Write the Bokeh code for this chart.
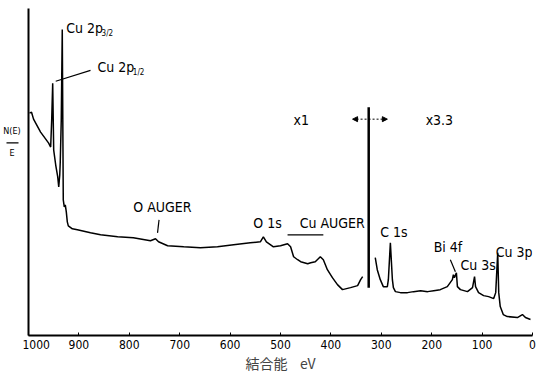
from bokeh.plotting import figure
from bokeh.models import Range1d, Label, Arrow, NormalHead, FixedTicker
from bokeh.layouts import row
from bokeh.core.properties import value
from bokeh.embed import file_html
from bokeh.resources import INLINE

# ---- spectrum data (binding energy eV, intensity arbitrary units) ----
# scale x1 segment (1000 -> ~337 eV)
be_x1 = [998, 994, 990, 976, 960, 956, 954, 952, 950, 946, 942, 940, 938, 937, 935, 933,
         931, 929, 927, 925, 923, 921, 913, 903, 877, 857, 823, 792, 758, 748, 742, 724,
         692, 659, 625, 593, 560, 540, 534, 528, 514, 500, 486, 480, 474, 466, 460, 446,
         440, 431, 421, 415, 407, 397, 387, 377, 361, 347, 341, 337]
int_x1 = [223, 224, 217, 204, 193, 189, 216, 253, 186, 171, 159, 149, 161, 174, 216, 307,
          136, 129, 131, 124, 114, 110, 107, 106, 103, 101, 99, 98, 95, 97, 94, 90,
          89, 88, 89, 91, 93, 94, 99, 94, 89, 90, 92, 89, 79, 76, 74, 72,
          73, 74, 79, 76, 66, 58, 51, 46, 48, 50, 56, 59]
# scale x3.3 segment (~312 -> 0 eV)
be_x33 = [312, 308, 302, 296, 288, 286, 282, 278, 276, 272, 262, 248, 236, 222, 208, 196,
          183, 169, 159, 157, 155, 151, 149, 143, 129, 119, 115, 113, 107, 97, 87, 77,
          73, 69, 67, 64, 58, 50, 30, 20, 14, 4]
int_x33 = [78, 66, 56, 49, 49, 56, 93, 56, 48, 44, 43, 43, 44, 45, 44, 45,
           46, 49, 56, 61, 58, 63, 49, 46, 44, 48, 59, 49, 43, 40, 39, 37,
           43, 83, 43, 29, 21, 19, 18, 21, 18, 16]

tick_values = [0, 100, 200, 300, 400, 500, 600, 700, 800, 900, 1000]
tick_labels = ["0", "100", "200", "300", "400", "500", "600", "700", "800", "900", "1000"]
x_title = "結合能\u00a0\u00a0\u00a0\u00a0eV"
y_title_top, y_title_bottom = "N(E)", "E"

# ---- annotation positions (data units) ----
split_be, split_lo, split_hi = 325, 48, 229

FONT = "DejaVu Sans Condensed, Liberation Sans Narrow, sans-serif"

# ---- narrow strip on the left holding the N(E)/E axis title ----
side = figure(width=22, height=375, x_range=Range1d(0, 22), y_range=Range1d(0, 375),
              output_backend="svg", toolbar_location=None,
              min_border_left=0, min_border_right=0, min_border_top=0, min_border_bottom=0)
side.axis.visible = False
side.grid.visible = False
side.outline_line_color = None
side.text(x=[11.5, 11.5], y=[234, 209], text=[y_title_top, y_title_bottom],
          text_font=value(FONT), text_font_size="9px", text_align="center",
          text_baseline="middle", text_color="black")
side.segment(x0=[6], y0=[221], x1=[18], y1=[221], line_color="black", line_width=1.2)

# ---- main spectrum ----
p = figure(width=518, height=375, x_range=Range1d(1000, 0), y_range=Range1d(0, 328),
           output_backend="svg", toolbar_location=None,
           min_border_left=6, min_border_right=8, min_border_top=8, min_border_bottom=39)
p.background_fill_color = "white"
p.border_fill_color = "white"
p.outline_line_color = None
p.grid.visible = False

xa = p.xaxis[0]
xa.ticker = FixedTicker(ticks=tick_values)
xa.major_label_overrides = {v: s for v, s in zip(tick_values, tick_labels)}
xa.axis_line_width = 2
xa.axis_line_color = "black"
xa.major_tick_in = 3
xa.major_tick_out = 0
xa.minor_tick_line_color = None
xa.major_label_text_font = FONT
xa.major_label_text_font_size = "12px"
xa.major_label_text_color = "black"
xa.major_label_standoff = 4
xa.axis_label = x_title
xa.axis_label_text_font = "Noto Sans CJK JP"
xa.axis_label_text_font_style = "normal"
xa.axis_label_text_font_size = "14px"
xa.axis_label_standoff = 1

ya = p.yaxis[0]
ya.axis_line_width = 2
ya.axis_line_color = "black"
ya.major_tick_line_color = None
ya.minor_tick_line_color = None
ya.major_label_text_font_size = "0px"
ya.major_label_standoff = 0
ya.major_label_text_color = None

p.line(be_x1, int_x1, line_color="black", line_width=1.5)
p.line(be_x33, int_x33, line_color="black", line_width=1.5)

# separator between x1 and x3.3
p.segment(x0=[split_be], y0=[split_lo], x1=[split_be], y1=[split_hi],
          line_color="black", line_width=2.5)

# leader lines / ticks
seg_x0 = [877, 741, 486, 163]
seg_y0 = [266, 116, 101, 76]
seg_x1 = [946, 744, 415, 153]
seg_y1 = [255, 103, 101, 64]
p.segment(x0=seg_x0, y0=seg_y0, x1=seg_x1, y1=seg_y1, line_color="black", line_width=1.2)

# scale arrow
p.add_layout(Arrow(x_start=357, y_start=217, x_end=288, y_end=217,
                   line_color="black", line_width=1, line_dash="2 2",
                   start=NormalHead(size=5, fill_color="black", line_color="black"),
                   end=NormalHead(size=5, fill_color="black", line_color="black")))

def lab(x, y, text, size="14px", align="left"):
    p.add_layout(Label(x=x, y=y, text=text, text_font=FONT, text_font_size=size,
                       text_baseline="middle", text_align=align, text_color="black"))

lab(925, 308, "Cu 2p")
lab(855, 303, "3/2", "8px")
lab(863, 269, "Cu 2p")
lab(793, 264, "1/2", "8px")
lab(792, 129, "O AUGER")
lab(554, 113, "O 1s")
lab(462, 113, "Cu AUGER")
lab(302, 104, "C 1s")
lab(196, 89, "Bi 4f")
lab(143, 71, "Cu 3s")
lab(73, 84, "Cu 3p")
lab(474, 216, "x1")
lab(212, 216, "x3.3")

open("out.html", "w").write(file_html(row(side, p), INLINE))
